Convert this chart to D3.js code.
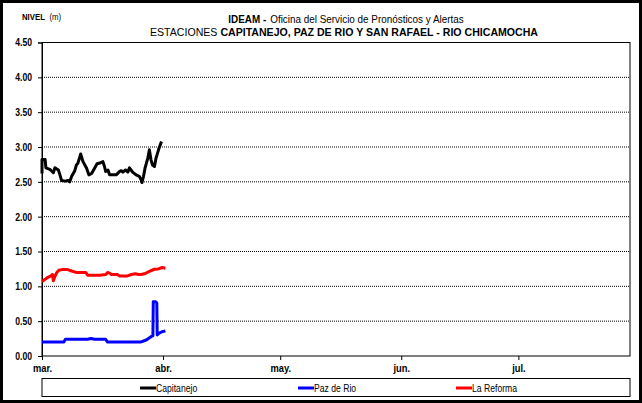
<!DOCTYPE html>
<html><head><meta charset="utf-8">
<script src="https://cdn.jsdelivr.net/npm/d3@7/dist/d3.min.js"></script>
<style>
html,body{margin:0;padding:0;background:#fff;}
svg{display:block;}
text{font-family:"Liberation Sans Narrow","Arial Narrow","Liberation Sans",Arial,sans-serif;}
</style></head>
<body>
<svg id="c" width="642" height="403"></svg>
<script>
// ---- data (day offsets from 1 March, level in m) ----
const months = ["mar.","abr.","may.","jun.","jul."];
const yTicks = [0,0.5,1,1.5,2,2.5,3,3.5,4,4.5];
const seriesNames = ["Capitanejo","Paz de Rio","La Reforma"];
const seriesColors = ["#000000","#0000ff","#ff0000"];

const capDays = [0,0,0.8,1.0,2.0,2.9,3.3,4.2,4.6,5.0,5.9,6.7,7.1,7.6,8.4,8.8,9.2,9.7,9.9,10.5,11.4,12.0,12.7,13.5,14.1,14.8,15.6,16.0,16.3,16.9,17.3,18.1,19.0,19.9,20.3,20.7,21.4,22.0,22.4,22.8,23.2,24.1,24.9,25.4,25.6,26.0,26.4,27.1,27.5,27.9,28.3,28.8,29.2,29.9,30.6];
const capVals = [2.62,2.82,2.82,2.70,2.68,2.63,2.70,2.67,2.60,2.52,2.51,2.52,2.50,2.58,2.66,2.74,2.77,2.86,2.90,2.79,2.70,2.60,2.62,2.70,2.76,2.77,2.79,2.72,2.65,2.67,2.60,2.60,2.60,2.65,2.66,2.64,2.67,2.64,2.70,2.67,2.64,2.60,2.58,2.53,2.49,2.58,2.70,2.84,2.96,2.82,2.74,2.72,2.84,2.97,3.08];

const pazDays = [0,5.6,6.0,11.7,12.5,13.5,16.3,16.8,25.2,26.7,28.0,28.4,28.5,29.1,29.4,29.5,30.0,30.8,31.6];
const pazVals = [0.20,0.20,0.24,0.24,0.25,0.24,0.24,0.20,0.20,0.23,0.28,0.29,0.78,0.78,0.76,0.30,0.33,0.35,0.36];

const refDays = [0,0.8,1.5,2.3,2.7,2.9,3.3,3.8,4.3,5.1,6.6,7.6,8.7,11.2,11.7,13.5,14.8,16.3,16.8,17.3,17.8,19.3,19.8,21.9,22.9,23.9,24.7,25.4,26.2,27.0,27.7,28.8,29.8,30.8,31.6];
const refVals = [1.07,1.10,1.13,1.15,1.17,1.08,1.14,1.20,1.23,1.24,1.24,1.22,1.20,1.20,1.16,1.16,1.16,1.17,1.20,1.19,1.17,1.17,1.15,1.15,1.17,1.18,1.17,1.17,1.18,1.20,1.22,1.245,1.25,1.27,1.26];

// ---- layout ----
const svg = d3.select("#c");
const L = 42, R = 630, T = 42.5, B = 356;
const start = new Date(2011,2,1);
const dayMs = 86400000;
const toDate = d => new Date(start.getTime() + d*dayMs);
const x = d3.scaleTime().domain([start, new Date(2011,6,29,14)]).range([L,R]);
const y = d3.scaleLinear().domain([0,4.5]).range([B,T]);
const FF = '"Liberation Sans Narrow","Arial Narrow","Liberation Sans",Arial,sans-serif';

// narrow-font emulation
function narrow(sel, f) {
  sel.each(function(){
    const w = this.getComputedTextLength();
    this.setAttribute("textLength", (w*f).toFixed(1));
    this.setAttribute("lengthAdjust","spacingAndGlyphs");
  });
}
// multi-part text line as separate text elements, compressed by factor f
function parts(x0, y0, anchor, size, f, gap, list) {
  const els = list.map(p => svg.append("text").attr("y",y0).attr("font-size",size)
    .attr("font-weight",p.bold?"bold":"normal").attr("fill","#000").text(p.t));
  const ws = els.map(e => e.node().getComputedTextLength()*f);
  const total = d3.sum(ws) + gap*(ws.length-1);
  let cx = anchor==="middle" ? x0 - total/2 : x0;
  els.forEach((e,i)=>{
    e.attr("x",cx.toFixed(1)).attr("textLength",ws[i].toFixed(1)).attr("lengthAdjust","spacingAndGlyphs");
    cx += ws[i] + gap;
  });
}

// outer frame
svg.append("rect").attr("x",1.5).attr("y",1.5).attr("width",639).attr("height",400)
  .attr("fill","none").attr("stroke","#000").attr("stroke-width",3);

// grid
svg.append("g").selectAll("line").data(yTicks.filter(v=>v>0 && v<4.5)).join("line")
  .attr("x1",L).attr("x2",R).attr("y1",d=>y(d)).attr("y2",d=>y(d))
  .attr("stroke","#000").attr("stroke-width",1).attr("stroke-dasharray","1,1");

// plot border
svg.append("rect").attr("x",L).attr("y",T).attr("width",R-L).attr("height",B-T)
  .attr("fill","none").attr("stroke","#000").attr("stroke-width",1);

// y axis
const ya = svg.append("g").attr("transform",`translate(${L},0)`)
  .call(d3.axisLeft(y).tickValues(yTicks).tickFormat(d3.format(".2f")).tickSize(4).tickPadding(6));
ya.select(".domain").attr("stroke","#000");
ya.selectAll("text").attr("font-size",10.5).attr("font-weight","bold").attr("fill","#000")
  .style("font-family",FF);
narrow(ya.selectAll("text"), 0.82);

// x axis
const monthDates = months.map((m,i)=>new Date(2011,2+i,1));
const xa = svg.append("g").attr("transform",`translate(0,${B})`)
  .call(d3.axisBottom(x).tickValues(monthDates).tickFormat((d,i)=>months[i]).tickSize(4).tickPadding(4));
xa.select(".domain").remove();
xa.selectAll("text").attr("font-size",11).attr("font-weight","bold").attr("fill","#000")
  .style("font-family",FF);
narrow(xa.selectAll("text"), 0.85);

// series
const line = d3.line().x(d=>x(toDate(d[0]))).y(d=>y(d[1]));
const series = [
  {name:seriesNames[0], color:seriesColors[0], pts:d3.zip(capDays,capVals)},
  {name:seriesNames[1], color:seriesColors[1], pts:d3.zip(pazDays,pazVals)},
  {name:seriesNames[2], color:seriesColors[2], pts:d3.zip(refDays,refVals)}
];
svg.append("g").selectAll("path").data(series).join("path")
  .attr("d",d=>line(d.pts)).attr("fill","none").attr("stroke",d=>d.color)
  .attr("stroke-width",3).attr("stroke-linejoin","round");

// titles
parts(346, 23, "middle", 11.5, 0.86, 4, [{t:"IDEAM -",bold:true},{t:"Oficina del Servicio de Pronósticos y Alertas"}]);
parts(344, 36, "middle", 11.5, 0.92, 3, [{t:"ESTACIONES"},{t:"CAPITANEJO, PAZ DE RIO Y SAN RAFAEL -  RIO CHICAMOCHA",bold:true}]);
parts(22, 20, "start", 9.5, 0.82, 4.5, [{t:"NIVEL",bold:true},{t:"(m)"}]);

// legend
svg.append("rect").attr("x",42).attr("y",378.5).attr("width",588).attr("height",18)
  .attr("fill","#fff").attr("stroke","#000").attr("stroke-width",1);
const legX = [140,298,456];
const lg = svg.append("g").selectAll("g").data(series).join("g")
  .attr("transform",(d,i)=>`translate(${legX[i]},388)`);
lg.append("line").attr("x1",0).attr("x2",16).attr("stroke",d=>d.color).attr("stroke-width",3);
lg.append("text").attr("x",16).attr("y",3.5).attr("font-size",10.5).attr("fill","#000").text(d=>d.name);
narrow(lg.selectAll("text"), 0.82);
</script>
</body></html>
